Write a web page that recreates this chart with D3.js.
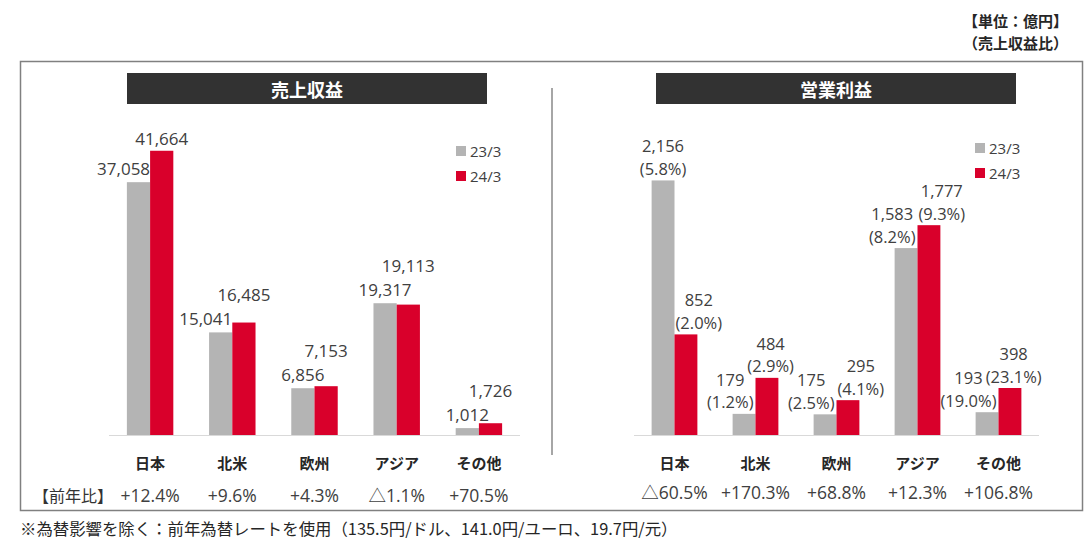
<!DOCTYPE html>
<html>
<head>
<meta charset="utf-8">
<script src="https://cdn.jsdelivr.net/npm/d3@7/dist/d3.min.js"></script>
<style>
  html, body { margin: 0; padding: 0; background: #ffffff; }
  svg { display: block; }
  .num { font-family: "Open Sans", "Noto Sans CJK JP", sans-serif; fill: #404040; }
  .jp { font-family: "Noto Sans CJK JP", "Open Sans", sans-serif; }
</style>
</head>
<body>
<svg id="chart" width="1090" height="548"></svg>
<script>
// ---------- data ----------
const categories = ["日本", "北米", "欧州", "アジア", "その他"];
const seriesNames = ["23/3", "24/3"];

const salesPrev = [37058, 15041, 6856, 19317, 1012];
const salesCurr = [41664, 16485, 7153, 19113, 1726];
const salesYoY  = ["+12.4%", "+9.6%", "+4.3%", "△1.1%", "+70.5%"];

const opPrev = [2156, 179, 175, 1583, 193];
const opCurr = [852, 484, 295, 1777, 398];
const opMarginPrev = ["(5.8%)", "(1.2%)", "(2.5%)", "(8.2%)", "(19.0%)"];
const opMarginCurr = ["(2.0%)", "(2.9%)", "(4.1%)", "(9.3%)", "(23.1%)"];
const opYoY = ["△60.5%", "+170.3%", "+68.8%", "+12.3%", "+106.8%"];

const panelTitles = ["売上収益", "営業利益"];
const yoyHeader = "【前年比】";
const unitLines = ["【単位：億円】", "（売上収益比）"];
const footnote = "※為替影響を除く：前年為替レートを使用（135.5円/ドル、141.0円/ユーロ、19.7円/元）";

// ---------- styles ----------
const COLORS = ["#b4b4b4", "#d9002b"];
const fmt = d3.format(",");

const svg = d3.select("#chart");

// outer frame
svg.append("rect")
  .attr("x", 20.5).attr("y", 61.5).attr("width", 1062).attr("height", 449)
  .attr("fill", "none").attr("stroke", "#808080").attr("stroke-width", 1.5);

// divider
svg.append("line")
  .attr("x1", 552).attr("x2", 552).attr("y1", 88).attr("y2", 455)
  .attr("stroke", "#a6a6a6").attr("stroke-width", 2);

// unit label
unitLines.forEach((t, i) => {
  svg.append("text").attr("class", "jp")
    .attr("x", 1068).attr("y", 20 + i * 22)
    .attr("text-anchor", "end").attr("dominant-baseline", "central")
    .attr("font-size", 15).attr("font-weight", "bold").attr("fill", "#262626")
    .text(t);
});

// footnote
svg.append("text").attr("class", "jp")
  .attr("x", 20).attr("y", 528)
  .attr("dominant-baseline", "central")
  .attr("font-size", 16.4).attr("fill", "#262626")
  .text(footnote);

// ---------- panels ----------
const panels = [
  { title: panelTitles[0], prev: salesPrev, curr: salesCurr, pPrev: null, pCurr: null,
    yoy: salesYoY, xRange: [109, 520], yMax: 45000, titleX: 127,
    legendX: 456, legendY: 146, yoyY: 495, grayOff: 14, redOff: 12, grayEdge: 0,
    fs: 17, line: 23.5 },
  { title: panelTitles[1], prev: opPrev, curr: opCurr, pPrev: opMarginPrev, pCurr: opMarginCurr,
    yoy: opYoY, xRange: [634, 1039], yMax: 2600, titleX: 656,
    legendX: 975, legendY: 143, yoyY: 492, grayOff: 12, redOff: 12, grayEdge: -2,
    fs: 16.5, line: 22.5 }
];

const BASE = 435, TOP = 128;

panels.forEach((p, pi) => {
  const g = svg.append("g");

  // title bar
  g.append("rect").attr("x", p.titleX).attr("y", 73).attr("width", 360).attr("height", 31)
    .attr("fill", "#323232");
  g.append("text").attr("class", "jp")
    .attr("x", p.titleX + 180).attr("y", 88.5)
    .attr("text-anchor", "middle").attr("dominant-baseline", "central")
    .attr("font-size", 18).attr("font-weight", "bold").attr("fill", "#ffffff")
    .text(p.title);

  const x0 = d3.scaleBand().domain(categories).range(p.xRange)
    .paddingInner(0.435).paddingOuter(0.2175);
  const x1 = d3.scaleBand().domain([0, 1]).range([0, x0.bandwidth()]);
  const y = d3.scaleLinear().domain([0, p.yMax]).range([BASE, TOP]);

  // bars
  const rows = categories.map((c, i) => ({ c, i, vals: [p.prev[i], p.curr[i]] }));
  const grp = g.selectAll("g.cat").data(rows).enter().append("g")
    .attr("transform", d => `translate(${x0(d.c)},0)`);
  grp.selectAll("rect").data(d => d.vals.map((v, k) => ({ v, k }))).enter().append("rect")
    .attr("x", d => x1(d.k)).attr("width", x1.bandwidth())
    .attr("y", d => y(d.v)).attr("height", d => BASE - y(d.v))
    .attr("fill", d => COLORS[d.k]);

  // baseline
  g.append("line").attr("x1", p.xRange[0]).attr("x2", p.xRange[1])
    .attr("y1", BASE + 0.5).attr("y2", BASE + 0.5)
    .attr("stroke", "#d9d9d9").attr("stroke-width", 1);

  // category labels
  g.selectAll("text.cat").data(categories).enter().append("text")
    .attr("class", "jp cat")
    .attr("x", d => x0(d) + x0.bandwidth() / 2).attr("y", 462)
    .attr("text-anchor", "middle").attr("dominant-baseline", "central")
    .attr("font-size", 15).attr("font-weight", "bold").attr("fill", "#262626")
    .text(d => d);

  // yoy row
  g.selectAll("text.yoy").data(p.yoy).enter().append("text")
    .attr("class", "num yoy")
    .attr("x", (d, i) => x0(categories[i]) + x0.bandwidth() / 2).attr("y", p.yoyY)
    .attr("text-anchor", "middle").attr("dominant-baseline", "central")
    .attr("font-size", 17.5).attr("fill", "#333333")
    .text(d => d);

  if (pi === 0) {
    g.append("text").attr("class", "jp")
      .attr("x", 33).attr("y", p.yoyY)
      .attr("dominant-baseline", "central")
      .attr("font-size", 16).attr("fill", "#333333")
      .text(yoyHeader);
  }

  // legend
  seriesNames.forEach((s, k) => {
    g.append("rect").attr("x", p.legendX).attr("y", p.legendY + k * 25)
      .attr("width", 10).attr("height", 10).attr("fill", COLORS[k]);
    g.append("text").attr("class", "num")
      .attr("x", p.legendX + 14).attr("y", p.legendY + 5 + k * 25)
      .attr("dominant-baseline", "central")
      .attr("font-size", 15)
      .text(s);
  });

  // data labels (one text element per label, lines as tspans)
  const makeLabel = (lines, bottomY) => {
    const txt = g.append("text").attr("class", "num")
      .attr("text-anchor", "middle").attr("font-size", p.fs);
    const items = lines.map((t, j) => {
      const ty = bottomY - (lines.length - 1 - j) * p.line;
      const el = txt.append("tspan").attr("y", ty)
        .attr("dominant-baseline", "central").text(t);
      return { el, y: ty, w: el.node().getComputedTextLength() };
    });
    const mw = d3.max(items, d => d.w);
    return { items, mw, place(cx) { this.cx = cx; items.forEach(d => d.el.attr("x", cx)); } };
  };

  categories.forEach((c, i) => {
    const bx = x0(c), bw = x1.bandwidth();
    const boundary = bx + bw;
    const yPrev = y(p.prev[i]), yCurr = y(p.curr[i]);
    const gLines = p.pPrev ? [fmt(p.prev[i]), p.pPrev[i]] : [fmt(p.prev[i])];
    const rLines = p.pCurr ? [fmt(p.curr[i]), p.pCurr[i]] : [fmt(p.curr[i])];

    const gBottom = yPrev - p.grayOff;
    const rBottom = p.pCurr ? yCurr - p.redOff : Math.min(yCurr - p.redOff, gBottom - p.line);

    const gl = makeLabel(gLines, gBottom);
    const rl = makeLabel(rLines, rBottom);

    // gray label: keep clear of the taller red bar
    if (yCurr < gBottom + 7) gl.place(boundary + p.grayEdge - gl.mw / 2);
    else gl.place(bx + bw / 2);

    // red label: keep clear of the taller gray bar
    let rc = bx + bw + bw / 2;
    if (yPrev < rBottom + 7) rc = boundary + 1 + rl.mw / 2;
    // keep clear of gray label text
    rl.items.forEach(r => {
      gl.items.forEach(q => {
        if (Math.abs(r.y - q.y) < 23) {
          const qRight = gl.cx + q.w / 2;
          const need = qRight + 3 + r.w / 2;
          if (rc - r.w / 2 < qRight + 3 && rc + r.w / 2 > gl.cx - q.w / 2) rc = Math.max(rc, need);
        }
      });
    });
    rl.place(rc);
  });
});
</script>
</body>
</html>
